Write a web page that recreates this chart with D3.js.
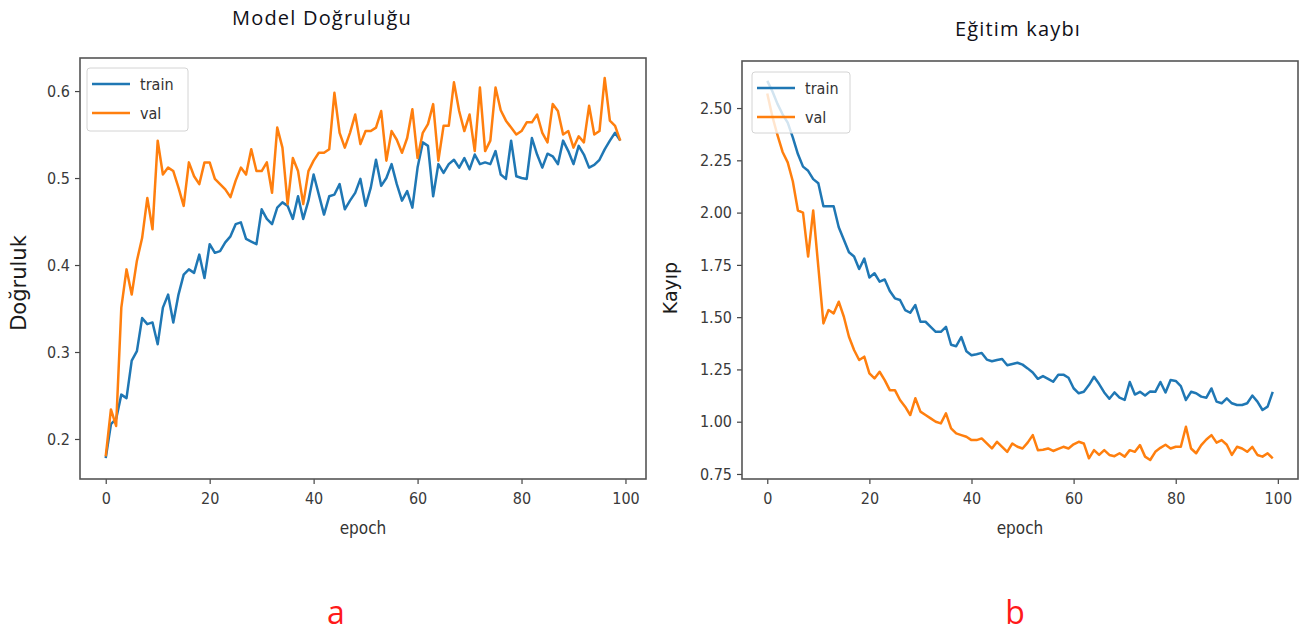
<!DOCTYPE html>
<html>
<head>
<meta charset="utf-8">
<script src="https://cdn.jsdelivr.net/npm/d3@7/dist/d3.min.js"></script>
<style>
body { margin: 0; background: #fff; }
svg { display: block; }
.tick text { font-family: "DejaVu Sans Condensed", "DejaVu Sans", sans-serif; font-size: 16px; fill: #3a3a3a; }
.tick line { stroke: #444; stroke-width: 1.2; }
</style>
</head>
<body>
<svg></svg>
<script>
// accuracy per epoch (0..99)
let trainAcc = [0.178,0.217,0.223,0.251,0.247,0.290,0.301,0.339,0.332,0.334,
  0.309,0.351,0.366,0.334,0.366,0.389,0.395,0.391,0.412,0.385,
  0.424,0.414,0.416,0.426,0.433,0.447,0.449,0.430,0.427,0.424,
  0.464,0.453,0.447,0.466,0.472,0.468,0.453,0.479,0.453,0.474,
  0.504,0.481,0.458,0.479,0.481,0.493,0.464,0.474,0.483,0.499,
  0.468,0.489,0.521,0.491,0.500,0.516,0.493,0.474,0.485,0.466,
  0.512,0.541,0.537,0.479,0.516,0.506,0.516,0.521,0.512,0.523,
  0.510,0.527,0.516,0.518,0.516,0.531,0.504,0.499,0.543,0.502,
  0.500,0.499,0.546,0.527,0.512,0.528,0.525,0.516,0.543,0.531,
  0.516,0.537,0.527,0.512,0.515,0.521,0.533,0.543,0.552,0.543]
let valAcc = [0.180,0.234,0.215,0.351,0.395,0.366,0.405,0.431,0.477,0.441,
  0.543,0.504,0.512,0.508,0.489,0.468,0.518,0.502,0.493,0.518,
  0.518,0.499,0.493,0.487,0.478,0.497,0.512,0.504,0.533,0.508,
  0.508,0.518,0.483,0.558,0.535,0.470,0.523,0.508,0.470,0.508,
  0.520,0.529,0.529,0.533,0.598,0.552,0.535,0.552,0.573,0.539,
  0.554,0.554,0.558,0.577,0.520,0.554,0.544,0.529,0.546,0.579,
  0.523,0.552,0.562,0.585,0.520,0.560,0.560,0.610,0.577,0.554,
  0.573,0.531,0.604,0.531,0.543,0.604,0.578,0.566,0.558,0.550,
  0.554,0.564,0.564,0.573,0.552,0.541,0.585,0.577,0.550,0.554,
  0.535,0.548,0.541,0.583,0.550,0.554,0.615,0.566,0.560,0.543]

// loss per epoch
let trainLoss = [2.63,2.58,2.52,2.47,2.43,2.36,2.28,2.22,2.20,2.16,
  2.14,2.03,2.03,2.03,1.93,1.87,1.81,1.79,1.73,1.78,
  1.69,1.71,1.67,1.68,1.625,1.59,1.582,1.534,1.521,1.558,
  1.478,1.478,1.454,1.430,1.430,1.454,1.368,1.361,1.405,1.337,
  1.318,1.323,1.329,1.297,1.289,1.295,1.300,1.270,1.276,1.282,
  1.273,1.255,1.235,1.205,1.218,1.205,1.191,1.225,1.225,1.210,
  1.160,1.136,1.143,1.175,1.215,1.180,1.140,1.110,1.140,1.115,
  1.104,1.190,1.130,1.143,1.125,1.145,1.143,1.190,1.140,1.199,
  1.195,1.170,1.104,1.143,1.136,1.120,1.115,1.159,1.096,1.088,
  1.112,1.088,1.080,1.080,1.088,1.125,1.096,1.056,1.072,1.143]
let valLoss = [2.57,2.46,2.37,2.29,2.24,2.15,2.01,2.00,1.79,2.01,
  1.74,1.47,1.534,1.518,1.574,1.502,1.406,1.343,1.295,1.311,
  1.231,1.207,1.239,1.199,1.151,1.151,1.104,1.072,1.032,1.112,
  1.048,1.032,1.016,1.000,0.992,1.040,0.968,0.944,0.936,0.928,
  0.912,0.912,0.920,0.896,0.872,0.904,0.880,0.856,0.896,0.880,
  0.872,0.900,0.936,0.864,0.866,0.872,0.860,0.870,0.880,0.872,
  0.892,0.904,0.896,0.825,0.864,0.841,0.864,0.841,0.835,0.849,
  0.833,0.864,0.856,0.888,0.833,0.817,0.856,0.875,0.890,0.872,
  0.880,0.880,0.976,0.872,0.849,0.888,0.915,0.936,0.900,0.912,
  0.890,0.841,0.880,0.872,0.856,0.880,0.841,0.833,0.849,0.825]

let xTicks = [0, 20, 40, 60, 80, 100]
let accTicks = [0.2, 0.3, 0.4, 0.5, 0.6]
let lossTicks = [0.75, 1.00, 1.25, 1.50, 1.75, 2.00, 2.25, 2.50]
let seriesNames = ['train', 'val']
let colors = ['#1f77b4', '#ff7f0e']

let w = 1306
let h = 633

let svg = d3.select('svg')
svg.attr('width', w).attr('height', h)

let drawPanel = (p) => {
    let xScale = d3.scaleLinear().domain([-4.95, 103.95]).range([p.left, p.right])
    let yScale = d3.scaleLinear().domain(p.yDomain).range([p.bottom, p.top])

    let line = d3.line()
        .x((d, i) => xScale(i))
        .y((d) => yScale(d))

    // lines first, legend sits on top of them
    p.series.forEach((s, k) => {
        svg.append('path')
            .datum(s)
            .attr('d', line)
            .attr('fill', 'none')
            .attr('stroke', colors[k])
            .attr('stroke-width', 2.5)
            .attr('stroke-linejoin', 'round')
    })

    let xAxis = d3.axisBottom(xScale).tickValues(xTicks).tickSize(5).tickPadding(9).tickFormat(d3.format('d'))
    let yAxis = d3.axisLeft(yScale).tickValues(p.yTicks).tickSize(5).tickPadding(5).tickFormat(d3.format(p.yFormat))

    svg.append('g')
        .attr('transform', 'translate(0,' + p.bottom + ')')
        .call(xAxis)
        .call(g => g.select('.domain').remove())

    svg.append('g')
        .attr('transform', 'translate(' + p.left + ',0)')
        .call(yAxis)
        .call(g => g.select('.domain').remove())

    // frame round the plot
    svg.append('rect')
        .attr('x', p.left)
        .attr('y', p.top)
        .attr('width', p.right - p.left)
        .attr('height', p.bottom - p.top)
        .attr('fill', 'none')
        .attr('stroke', '#555')
        .attr('stroke-width', 1.6)

    // legend
    let lg = svg.append('g').attr('transform', 'translate(' + p.legend[0] + ',' + p.legend[1] + ')')
    lg.append('rect')
        .attr('width', p.legend[2])
        .attr('height', p.legend[3])
        .attr('rx', 3)
        .attr('fill', 'rgba(255,255,255,0.8)')
        .attr('stroke', '#d4d4d4')
    seriesNames.forEach((name, k) => {
        let yy = 16 + k * 29
        lg.append('line')
            .attr('x1', 5).attr('x2', 43)
            .attr('y1', yy).attr('y2', yy)
            .attr('stroke', colors[k])
            .attr('stroke-width', 2.5)
        lg.append('text')
            .attr('x', 53)
            .attr('y', yy + 6)
            .text(name)
            .style('font-family', '"DejaVu Sans Condensed", "DejaVu Sans", sans-serif')
            .style('font-size', '16px')
            .style('fill', '#333')
    })

    // axis labels
    svg.append('text')
        .attr('x', (p.left + p.right) / 2)
        .attr('y', 534)
        .attr('text-anchor', 'middle')
        .text('epoch')
        .style('font-family', '"DejaVu Sans Condensed", "DejaVu Sans", sans-serif')
        .style('font-size', '17px')
        .style('fill', '#333')

    svg.append('text')
        .attr('transform', 'translate(' + p.yLabelX + ',' + p.yLabelY + ') rotate(-90)')
        .attr('text-anchor', 'middle')
        .text(p.yLabel)
        .style('font-family', '"DejaVu Sans", sans-serif')
        .style('font-size', p.yLabelSize)
        .style('fill', '#1a1a1a')

    svg.append('text')
        .attr('x', p.titleX)
        .attr('y', p.titleY)
        .attr('text-anchor', 'middle')
        .text(p.title)
        .style('font-family', '"Open Sans", sans-serif')
        .style('font-size', '20px')
        .style('letter-spacing', '1.2px')
        .style('fill', '#101018')

    svg.append('text')
        .attr('x', p.tagX)
        .attr('y', 624)
        .attr('text-anchor', 'middle')
        .text(p.tag)
        .style('font-family', '"Open Sans", sans-serif')
        .style('font-size', '32px')
        .style('fill', '#ff1a1a')
}

drawPanel({
    left: 80, right: 646, top: 58, bottom: 479,
    yDomain: [0.154, 0.638], yTicks: accTicks, yFormat: '.1f',
    series: [trainAcc, valAcc],
    legend: [87, 68, 101, 63],
    yLabel: 'Doğruluk', yLabelX: 26, yLabelY: 283, yLabelSize: '21px',
    title: 'Model Doğruluğu', titleX: 322, titleY: 25,
    tag: 'a', tagX: 336
})

drawPanel({
    left: 742, right: 1298, top: 61, bottom: 479,
    yDomain: [0.726, 2.725], yTicks: lossTicks, yFormat: '.2f',
    series: [trainLoss, valLoss],
    legend: [752, 72, 98, 61],
    yLabel: 'Kayıp', yLabelX: 677, yLabelY: 288, yLabelSize: '19px',
    title: 'Eğitim kaybı', titleX: 1018, titleY: 36,
    tag: 'b', tagX: 1015
})
</script>
</body>
</html>
